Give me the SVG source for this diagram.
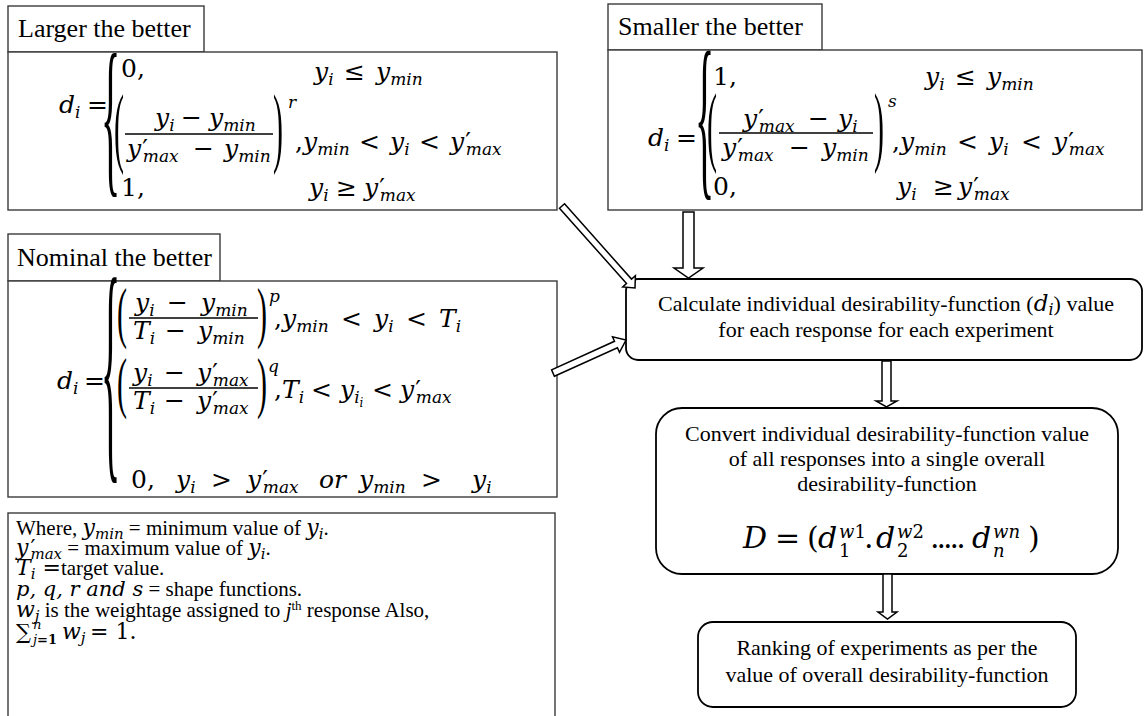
<svg xmlns="http://www.w3.org/2000/svg" width="1146" height="716" viewBox="0 0 1146 716">
<style>
.bx{fill:#fff;stroke:#3a3a3a;stroke-width:1.4}
.rb{fill:#fff;stroke:#000;stroke-width:1.8}
.ti{font-family:"Liberation Serif","Times New Roman",serif;font-size:26px;fill:#000}
.tx{font-family:"Liberation Serif","Times New Roman",serif;font-size:22px;fill:#000}
.tw{font-family:"Liberation Serif","Times New Roman",serif;font-size:21px;fill:#000}
.mt{font-family:"DejaVu Serif",serif;font-style:italic;font-size:25px;fill:#000}
.up{font-style:normal}
.sb{font-size:17px}
.pr{font-style:normal}
.dl{font-family:"Liberation Serif","Times New Roman",serif;font-size:30px;fill:#000}
.bc{font-family:"Liberation Serif","Times New Roman",serif;font-size:40px;fill:#000}
.fl{stroke:#000;stroke-width:1.4}
.ar{fill:#fff;stroke:#000;stroke-width:1.5;stroke-linejoin:miter}
</style>

<g id="larger">
<rect class="bx" x="8" y="6" width="196" height="46"/>
<text class="ti" x="18" y="37">Larger the better</text>
<rect class="bx" x="8" y="52" width="549" height="158"/>
<text class="mt" x="59" y="113">d<tspan class="sb" dy="5">i</tspan></text>
<text class="mt up" x="87" y="113">=</text>
<text class="bc" transform="translate(101,173.6) scale(1,4.36)">{</text>
<text class="mt up" x="121" y="77">0,</text>
<text class="mt" x="314" y="80">y<tspan class="sb" dy="5">i</tspan></text>
<text class="mt up" x="344" y="80">≤</text>
<text class="mt" x="376" y="80">y<tspan class="sb" dy="5">min</tspan></text>
<text class="dl" transform="translate(114,156.3) scale(1,2.97)">(</text>
<text class="mt" x="155" y="126">y<tspan class="sb" dy="5">i</tspan></text>
<text class="mt up" x="181" y="126">−</text>
<text class="mt" x="209" y="126">y<tspan class="sb" dy="5">min</tspan></text>
<line class="fl" x1="125" y1="134" x2="273" y2="134"/>
<text class="mt" x="127" y="157">y<tspan class="pr" dx="1">′</tspan><tspan class="sb" dx="-5" dy="5">max</tspan></text>
<text class="mt up" x="193" y="157">−</text>
<text class="mt" x="224" y="157">y<tspan class="sb" dy="5">min</tspan></text>
<text class="dl" transform="translate(273,156.3) scale(1,2.97)">)</text>
<text class="mt sb" x="288" y="108">r</text>
<text class="mt up" x="295" y="150">,</text>
<text class="mt" x="303" y="150">y<tspan class="sb" dy="5">min</tspan></text>
<text class="mt up" x="359" y="150">&lt;</text>
<text class="mt" x="390" y="150">y<tspan class="sb" dy="5">i</tspan></text>
<text class="mt up" x="419" y="150">&lt;</text>
<text class="mt" x="450" y="150">y<tspan class="pr" dx="1">′</tspan><tspan class="sb" dx="-5" dy="5">max</tspan></text>
<text class="mt up" x="121" y="196">1,</text>
<text class="mt" x="309" y="196">y<tspan class="sb" dy="5">i</tspan></text>
<text class="mt up" x="336" y="196">≥</text>
<text class="mt" x="364" y="196">y<tspan class="pr" dx="1">′</tspan><tspan class="sb" dx="-5" dy="5">max</tspan></text>
</g>

<g id="smaller">
<rect class="bx" x="608" y="4" width="214" height="46"/>
<text class="ti" x="618" y="35">Smaller the better</text>
<rect class="bx" x="608" y="50" width="534" height="160"/>
<text class="mt" x="648" y="146">d<tspan class="sb" dy="5">i</tspan></text>
<text class="mt up" x="676" y="146">=</text>
<text class="bc" transform="translate(695,175.9) scale(1,4.48)">{</text>
<text class="mt up" x="713" y="85">1,</text>
<text class="mt" x="925" y="85">y<tspan class="sb" dy="5">i</tspan></text>
<text class="mt up" x="955" y="85">≤</text>
<text class="mt" x="987" y="85">y<tspan class="sb" dy="5">min</tspan></text>
<text class="dl" transform="translate(707,155.3) scale(1,2.97)">(</text>
<text class="mt" x="743" y="127">y<tspan class="pr" dx="1">′</tspan><tspan class="sb" dx="-5" dy="5">max</tspan></text>
<text class="mt up" x="808" y="127">−</text>
<text class="mt" x="838" y="127">y<tspan class="sb" dy="5">i</tspan></text>
<line class="fl" x1="719" y1="133" x2="873" y2="133"/>
<text class="mt" x="722" y="156">y<tspan class="pr" dx="1">′</tspan><tspan class="sb" dx="-5" dy="5">max</tspan></text>
<text class="mt up" x="789" y="156">−</text>
<text class="mt" x="822" y="156">y<tspan class="sb" dy="5">min</tspan></text>
<text class="dl" transform="translate(874,155.3) scale(1,2.97)">)</text>
<text class="mt sb" x="888" y="107">s</text>
<text class="mt up" x="892" y="150">,</text>
<text class="mt" x="900" y="150">y<tspan class="sb" dy="5">min</tspan></text>
<text class="mt up" x="957" y="150">&lt;</text>
<text class="mt" x="989" y="150">y<tspan class="sb" dy="5">i</tspan></text>
<text class="mt up" x="1021" y="150">&lt;</text>
<text class="mt" x="1053" y="150">y<tspan class="pr" dx="1">′</tspan><tspan class="sb" dx="-5" dy="5">max</tspan></text>
<text class="mt up" x="713" y="195">0,</text>
<text class="mt" x="897" y="195">y<tspan class="sb" dy="5">i</tspan></text>
<text class="mt up" x="933" y="195">≥</text>
<text class="mt" x="958" y="195">y<tspan class="pr" dx="1">′</tspan><tspan class="sb" dx="-5" dy="5">max</tspan></text>
</g>

<g id="nominal">
<rect class="bx" x="8" y="234" width="212" height="47"/>
<text class="ti" x="17" y="266">Nominal the better</text>
<rect class="bx" x="8" y="281" width="549" height="216"/>
<text class="mt" x="57" y="389">d<tspan class="sb" dy="5">i</tspan></text>
<text class="mt up" x="84" y="389">=</text>
<text class="bc" transform="translate(101,450.4) scale(1,6.19)">{</text>
<text class="dl" transform="translate(117,335.1) scale(1,2.27)">(</text>
<text class="mt" x="135" y="311">y<tspan class="sb" dy="5">i</tspan></text>
<text class="mt up" x="167" y="311">−</text>
<text class="mt" x="201" y="311">y<tspan class="sb" dy="5">min</tspan></text>
<line class="fl" x1="129" y1="318" x2="258" y2="318"/>
<text class="mt" x="133" y="339">T<tspan class="sb" dy="5">i</tspan></text>
<text class="mt up" x="165" y="339">−</text>
<text class="mt" x="198" y="339">y<tspan class="sb" dy="5">min</tspan></text>
<text class="dl" transform="translate(257,335.1) scale(1,2.27)">)</text>
<text class="mt sb" x="269" y="302">p</text>
<text class="mt up" x="274" y="327">,</text>
<text class="mt" x="282" y="327">y<tspan class="sb" dy="5">min</tspan></text>
<text class="mt up" x="341" y="327">&lt;</text>
<text class="mt" x="374" y="327">y<tspan class="sb" dy="5">i</tspan></text>
<text class="mt up" x="406" y="327">&lt;</text>
<text class="mt" x="439" y="327">T<tspan class="sb" dy="5">i</tspan></text>
<text class="dl" transform="translate(117,405.1) scale(1,2.27)">(</text>
<text class="mt" x="133" y="381">y<tspan class="sb" dy="5">i</tspan></text>
<text class="mt up" x="164" y="381">−</text>
<text class="mt" x="197" y="381">y<tspan class="pr" dx="1">′</tspan><tspan class="sb" dx="-5" dy="5">max</tspan></text>
<line class="fl" x1="129" y1="388" x2="258" y2="388"/>
<text class="mt" x="133" y="409">T<tspan class="sb" dy="5">i</tspan></text>
<text class="mt up" x="164" y="409">−</text>
<text class="mt" x="197" y="409">y<tspan class="pr" dx="1">′</tspan><tspan class="sb" dx="-5" dy="5">max</tspan></text>
<text class="dl" transform="translate(257,405.1) scale(1,2.27)">)</text>
<text class="mt sb" x="268" y="372">q</text>
<text class="mt up" x="274" y="398">,</text>
<text class="mt" x="282" y="398">T<tspan class="sb" dy="5">i</tspan></text>
<text class="mt up" x="311" y="398">&lt;</text>
<text class="mt" x="340" y="398">y<tspan class="sb" dy="5">i<tspan style="font-size:12px" dy="4">i</tspan></tspan></text>
<text class="mt up" x="372" y="398">&lt;</text>
<text class="mt" x="400" y="398">y<tspan class="pr" dx="1">′</tspan><tspan class="sb" dx="-5" dy="5">max</tspan></text>
<text class="mt up" x="131" y="488">0,</text>
<text class="mt" x="176" y="488">y<tspan class="sb" dy="5">i</tspan></text>
<text class="mt up" x="211" y="488">&gt;</text>
<text class="mt" x="247" y="488">y<tspan class="pr" dx="1">′</tspan><tspan class="sb" dx="-5" dy="5">max</tspan></text>
<text class="mt" x="319" y="488">or</text>
<text class="mt" x="359" y="488">y<tspan class="sb" dy="5">min</tspan></text>
<text class="mt up" x="421" y="488">&gt;</text>
<text class="mt" x="472" y="488">y<tspan class="sb" dy="5">i</tspan></text>
</g>

<g id="where">
<rect class="bx" x="8" y="513" width="547" height="211"/>
<text class="tw" x="16" y="535">Where, <tspan class="mt" style="font-size:22px">y</tspan><tspan class="mt" style="font-size:15px" dy="4">min</tspan><tspan dy="-4"> = minimum value of </tspan><tspan class="mt" style="font-size:22px">y</tspan><tspan class="mt" style="font-size:15px" dy="4">i</tspan><tspan dy="-4">.</tspan></text>
<text class="tw" x="16" y="555"><tspan class="mt" style="font-size:22px">y</tspan><tspan class="mt up" style="font-size:22px" dx="2">′</tspan><tspan class="mt" style="font-size:15px" dx="-5" dy="4">max</tspan><tspan dy="-4"> = maximum value of </tspan><tspan class="mt" style="font-size:22px">y</tspan><tspan class="mt" style="font-size:15px" dy="4">i</tspan><tspan dy="-4">.</tspan></text>
<text class="tw" x="16" y="575"><tspan class="mt" style="font-size:22px">T</tspan><tspan class="mt" style="font-size:15px" dy="4">i</tspan><tspan class="mt up" style="font-size:22px" dy="-4"> =</tspan>target value.</text>
<text class="tw" x="16" y="596"><tspan class="mt" style="font-size:21px">p, q, r and s</tspan> = shape functions.</text>
<text class="tw" x="16" y="617"><tspan class="mt" style="font-size:22px">w</tspan><tspan class="mt" style="font-size:15px" dy="4">j</tspan><tspan dy="-4"> is the weightage assigned to </tspan><tspan font-style="italic">j</tspan><tspan style="font-size:13px" dy="-7">th</tspan><tspan dy="7"> response Also,</tspan></text>
<text class="mt up" x="16" y="639" style="font-size:21px">∑</text>
<text class="mt" x="33" y="629" style="font-size:13px">n</text>
<text class="mt" x="33" y="644" style="font-size:13px">j<tspan class="up" font-weight="bold">=1</tspan></text>
<text class="mt" x="62" y="639" style="font-size:22px">w<tspan style="font-size:15px" dy="4">j</tspan></text>
<text class="mt up" x="90" y="639" style="font-size:22px">= 1.</text>
</g>

<g id="calc">
<rect class="rb" x="626" y="279" width="516" height="81" rx="12"/>
<text class="tx" x="886" y="311" text-anchor="middle">Calculate individual desirability-function (<tspan class="mt" style="font-size:23px">d</tspan><tspan class="mt" style="font-size:16px" dy="4">i</tspan><tspan dy="-4">) value</tspan></text>
<text class="tx" x="886" y="337" text-anchor="middle">for each response for each experiment</text>
</g>

<g id="convert">
<rect class="rb" x="656" y="408" width="462" height="166" rx="26"/>
<text class="tx" x="887" y="441" text-anchor="middle">Convert individual desirability-function value</text>
<text class="tx" x="887" y="466" text-anchor="middle">of all responses into a single overall</text>
<text class="tx" x="887" y="491" text-anchor="middle">desirability-function</text>
<text class="mt" x="743" y="548" style="font-size:30px">D</text>
<text class="mt up" x="775" y="548" style="font-size:30px">=</text>
<text class="mt up" x="807" y="548" style="font-size:30px">(</text>
<text class="mt" x="818" y="548" style="font-size:30px">d</text>
<text class="mt" x="839" y="538" style="font-size:18px">w<tspan class="up">1</tspan></text>
<text class="mt up" x="839" y="557" style="font-size:18px">1</text>
<text class="mt up" x="864" y="548" style="font-size:30px">.</text>
<text class="mt" x="876" y="548" style="font-size:30px">d</text>
<text class="mt" x="897" y="538" style="font-size:18px">w<tspan class="up">2</tspan></text>
<text class="mt up" x="897" y="557" style="font-size:18px">2</text>
<text class="mt up" x="930" y="548" style="font-size:30px" letter-spacing="-3">.....</text>
<text class="mt" x="972" y="548" style="font-size:30px">d</text>
<text class="mt" x="993" y="538" style="font-size:18px">wn</text>
<text class="mt" x="993" y="557" style="font-size:18px">n</text>
<text class="mt up" x="1028" y="548" style="font-size:30px">)</text>
</g>

<g id="ranking">
<rect class="rb" x="698" y="622" width="378" height="85" rx="15"/>
<text class="tx" x="887" y="655" text-anchor="middle">Ranking of experiments as per the</text>
<text class="tx" x="887" y="682" text-anchor="middle">value of overall desirability-function</text>
</g>

<g id="connectors">
<polygon class="ar" points="683,212 694,212 694,268 703,268 688.5,278 674,268 683,268"/>
<polygon class="ar" points="882,361 891,361 891,401 897,401 886.5,407 876,401 882,401"/>
<polygon class="ar" points="883,574 892,574 892,612 897,612 887.5,619 878,612 883,612"/>
<polygon class="ar" points="564.5,203.8 631.5,279.1 635.4,275.7 635,288 622.7,287 626.5,283.5 559.5,208.2"/>
<polygon class="ar" points="554.4,376.2 617.4,347.7 619.5,352.3 626,340 612.5,336.8 614.5,341.3 551.6,369.8"/>
</g>
</svg>
